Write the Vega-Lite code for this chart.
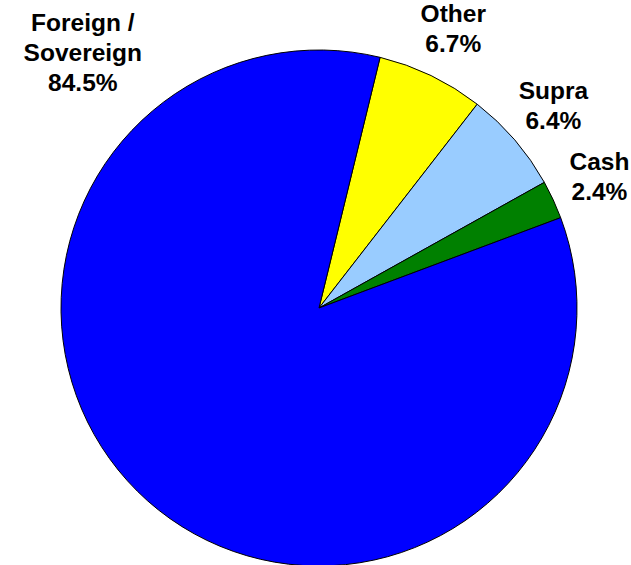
{
  "$schema": "https://vega.github.io/schema/vega-lite/v6.json",
  "autosize": "none",
  "width": 638,
  "height": 616,
  "padding": 0,
  "background": "white",
  "config": {"view": {"stroke": null}},
  "data": {
    "values": [
      {"category": "Other", "share": 6.7, "label": "Other\n6.7%"},
      {"category": "Supra", "share": 6.4, "label": "Supra\n6.4%"},
      {"category": "Cash", "share": 2.4, "label": "Cash\n2.4%"},
      {"category": "Foreign / Sovereign", "share": 84.5, "label": "Foreign /\nSovereign\n84.5%"}
    ]
  },
  "transform": [{"window": [{"op": "row_number", "as": "idx"}]}],
  "layer": [
    {
      "mark": {"type": "arc", "outerRadius": 258, "stroke": "#000000", "strokeWidth": 1},
      "encoding": {
        "theta": {"field": "share", "type": "quantitative", "stack": true, "scale": {"range": [0.2391, 6.5223]}},
        "order": {"field": "idx", "type": "quantitative"},
        "color": {
          "field": "category",
          "type": "nominal",
          "scale": {"domain": ["Other", "Supra", "Cash", "Foreign / Sovereign"], "range": ["#FFFF00", "#99CCFF", "#008000", "#0000FF"]},
          "legend": null
        }
      }
    },
    {
      "mark": {"type": "text", "font": "Liberation Sans", "fontWeight": "bold", "fontSize": 24.5, "lineBreak": "\n", "lineHeight": 30, "align": "center", "baseline": "middle", "dy": -15, "color": "#000000"},
      "encoding": {
        "theta": {"field": "share", "type": "quantitative", "stack": true},
        "order": {"field": "idx", "type": "quantitative"},
        "radius": {"value": 309},
        "text": {"field": "label"},
        "opacity": {"condition": {"test": "datum.category === 'Foreign / Sovereign'", "value": 0}, "value": 1}
      }
    },
    {
      "transform": [{"filter": "datum.category === 'Foreign / Sovereign'"}],
      "mark": {"type": "text", "font": "Liberation Sans", "fontWeight": "bold", "fontSize": 24.5, "lineBreak": "\n", "lineHeight": 30, "align": "center", "baseline": "middle", "color": "#000000"},
      "encoding": {
        "theta": {"value": 5.590},
        "radius": {"value": 369.6},
        "text": {"field": "label"}
      }
    }
  ]
}
